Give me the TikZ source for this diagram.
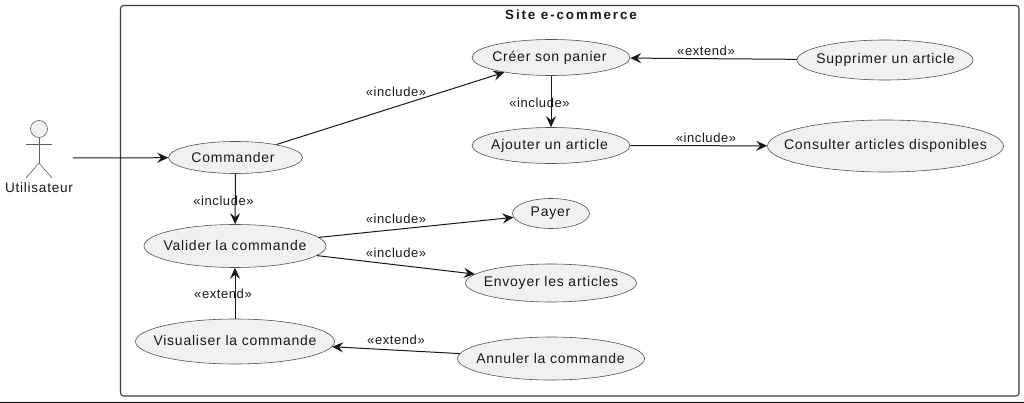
\documentclass[tikz,border=0pt]{standalone}
\usepackage{fontspec}
\setmainfont{Liberation Sans}
\newfontfamily\spacedfont[LetterSpace=5.5]{Liberation Sans}
\newfontfamily\labelfont[LetterSpace=4.5]{Liberation Sans}
\newfontfamily\titlefont[LetterSpace=14,BoldFont={Liberation Sans Bold}]{Liberation Sans}
\usetikzlibrary{shapes.geometric,arrows.meta}
\definecolor{ucfill}{HTML}{F1F1F1}
\definecolor{ink}{HTML}{181818}
% text of a use case: no width of its own, moved by dx and raised by dy
\newcommand{\nudged}[3]{\makebox[0pt][c]{\hspace*{#1}\raisebox{#2}{#3}}}
\tikzset{
  usecase/.style={ellipse,draw=ink!75,line width=0.6pt,fill=ucfill,inner sep=0pt,text=ink,
    font=\fontsize{14}{16}\selectfont\spacedfont},
  flow/.style={draw=ink,line width=1pt,-{Stealth[length=11pt,width=10pt,inset=4pt]}},
  lbl/.style={text=ink,inner sep=0pt,font=\fontsize{13}{15}\selectfont\labelfont},
  stick/.style={draw=ink!70,line width=0.6pt}
}
\begin{document}
\begin{tikzpicture}[x=1pt,y=-1pt]
\useasboundingbox (0,0) rectangle (1024,403);
% system boundary
\draw[draw=ink!85,line width=1.1pt,rounded corners=3pt] (120.5,5.5) rectangle (1019,396);
\node[inner sep=0pt,text=ink,font=\fontsize{13.4}{15}\selectfont\titlefont\bfseries] (title) at (571,15) {Site e-commerce};
% page rule
\coordinate (ruleL) at (0,402.5);
\coordinate (ruleR) at (1024,402.5);
\draw[black,line width=1pt] (ruleL) -- (ruleR);
% actor
\node[circle,draw=ink!70,fill=ucfill,line width=0.6pt,minimum size=17pt,inner sep=0pt] (head) at (39,129) {};
\coordinate (hip) at (39,163);
\coordinate (armL) at (26,144);
\coordinate (armR) at (52,144);
\coordinate (legL) at (26,178);
\coordinate (legR) at (52,178);
\draw[stick] (head) -- (hip);
\draw[stick] (armL) -- (armR);
\draw[stick] (legL) -- (hip) -- (legR);
\node[text=ink,inner sep=0pt,font=\fontsize{13.6}{16}\selectfont\spacedfont] (actor) at (39,188) {Utilisateur};
\coordinate (actorOut) at (73,158);
% use cases
\node[usecase,minimum width=134pt,minimum height=32pt] (commander) at (235.5,157.5) {\nudged{-5pt}{0pt}{Commander}};
\node[usecase,minimum width=182pt,minimum height=43pt] (valider) at (235,246) {\nudged{0pt}{0.7pt}{Valider la commande}};
\node[usecase,minimum width=199pt,minimum height=45pt] (visualiser) at (235,341.5) {\nudged{0pt}{1.2pt}{Visualiser la commande}};
\node[usecase,minimum width=158pt,minimum height=36pt] (creer) at (551,57.5) {\nudged{-3pt}{0pt}{Créer son panier}};
\node[usecase,minimum width=158pt,minimum height=36pt] (ajouter) at (551,145.5) {\nudged{-3pt}{0pt}{Ajouter un article}};
\node[usecase,minimum width=176pt,minimum height=40pt] (supprimer) at (885,60) {\nudged{1pt}{0pt}{Supprimer un article}};
\node[usecase,minimum width=236pt,minimum height=52pt] (consulter) at (885.5,146) {\nudged{0pt}{0pt}{Consulter articles disponibles}};
\node[usecase,minimum width=77pt,minimum height=30pt] (payer) at (551,213.5) {\nudged{-1pt}{0.5pt}{Payer}};
\node[usecase,minimum width=171pt,minimum height=38pt] (envoyer) at (551,283) {\nudged{0pt}{0pt}{Envoyer les articles}};
\node[usecase,minimum width=187pt,minimum height=43pt] (annuler) at (551,358.5) {\nudged{-1pt}{1pt}{Annuler la commande}};
% connectors
\draw[flow] (actorOut) -- (commander);
\draw[flow] (commander) -- (creer);
\draw[flow] (creer) -- (ajouter);
\draw[flow] (supprimer) -- (creer);
\draw[flow] (ajouter) -- (consulter);
\draw[flow] (commander) -- (valider);
\draw[flow] (valider) -- (payer);
\draw[flow] (valider) -- (envoyer);
\draw[flow] (visualiser) -- (valider);
\draw[flow] (annuler) -- (visualiser);
% labels
\node[lbl] (l1) at (396,91.5) {«include»};
\node[lbl] (l2) at (539.5,103) {«include»};
\node[lbl] (l3) at (706,51) {«extend»};
\node[lbl] (l4) at (706,138) {«include»};
\node[lbl] (l5) at (223.5,201) {«include»};
\node[lbl] (l6) at (396,219) {«include»};
\node[lbl] (l7) at (396,253) {«include»};
\node[lbl] (l8) at (223,294) {«extend»};
\node[lbl] (l9) at (396,340) {«extend»};
\end{tikzpicture}
\end{document}
